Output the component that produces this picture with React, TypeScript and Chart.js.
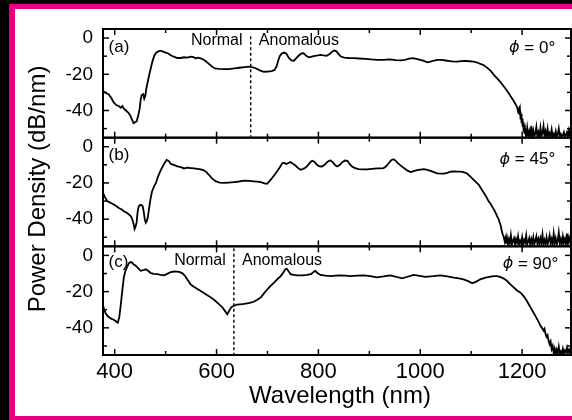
import React, { useEffect, useRef } from 'react';
import { Chart, registerables } from 'chart.js';

Chart.register(...registerables);

// ---------- data ----------
const panelTags = ['(a)', '(b)', '(c)'];
const phiValues = ['0°', '45°', '90°'];
const regimeLabels = ['Normal', 'Anomalous'];
const zeroDispersionA = 667; // nm, dashed marker in panel (a)
const zeroDispersionC = 634; // nm, dashed marker in panel (c)
const xTickValues = [400, 500, 600, 700, 800, 900, 1000, 1100, 1200];
const xTickLabels = [400, 600, 800, 1000, 1200];
const yTickValues = [-50, -40, -30, -20, -10, 0];
const yTickLabels = [0, -20, -40];
const xTitle = 'Wavelength (nm)';
const yTitle = 'Power Density (dB/nm)';

// panel (a) phi = 0°
const wlA = [378,383,388,393,398,403,408,412,415,418,422,426,430,434,437,440,443,446,449,451,453,456,458,460,462,465,468,471,474,478,482,486,490,495,500,505,510,516,523,530,536,543,549,555,559,563,569,575,582,590,597,605,615,625,635,645,655,663,670,678,686,693,700,708,714,718,721,724,728,733,737,742,747,752,757,762,767,771,776,781,787,793,799,804,810,816,822,827,831,835,839,844,851,860,870,880,892,904,916,928,940,952,962,970,978,986,994,1000,1007,1014,1020,1027,1034,1042,1050,1058,1066,1073,1080,1088,1096,1105,1112,1118,1125,1131,1138,1145,1150,1155,1160,1165,1170,1175,1180,1184,1188,1190,1192,1194,1195,1196,1197,1198,1199,1200,1201,1202,1203,1204,1205,1206,1208,1210,1212,1214,1216,1218,1220,1222,1224,1226,1228,1230,1232,1234,1236,1238,1240,1242,1244,1246,1248,1250,1252,1254,1256,1258,1260,1262,1264,1266,1268,1270,1272,1274,1276,1278,1280,1282,1284,1286,1288,1290,1292,1294,1296];
const dbA = [-29.5,-30.5,-31,-33,-35.5,-37,-37.5,-38.5,-37.5,-39,-40,-41,-42.5,-45,-47,-46.5,-46,-43,-39,-34,-31.5,-31,-33.5,-32,-28,-24,-20,-16.5,-13,-9.5,-8,-7.3,-7,-7.5,-8,-8.5,-9.5,-10.3,-11,-11,-10.6,-10.8,-10.3,-10.5,-11.3,-10.8,-11.2,-12,-13.5,-15.5,-16.8,-17,-17.1,-17.2,-16.8,-16.4,-16,-15.8,-16,-16.8,-18,-18.6,-18.5,-18.2,-17.6,-15.5,-12.5,-10,-8.5,-8,-8.6,-11,-12.3,-12.5,-11,-9.5,-8.5,-8.4,-9.8,-10.6,-10.2,-9.8,-9.6,-9.3,-9.6,-9.8,-8.8,-7.6,-6.9,-7.2,-8.6,-10.2,-10.8,-11,-11.1,-11.3,-11.5,-11.8,-12,-12,-11.8,-12.2,-12.3,-12,-11.4,-11.1,-11.6,-12,-12.6,-13.4,-13,-12.4,-12,-12.1,-12.4,-12.7,-13,-13,-12.7,-12.6,-12.8,-13,-13.5,-14.3,-15,-16.3,-18,-20.5,-22,-23.5,-25.2,-27,-29,-31,-33.2,-35,-37,-38,-40.5,-39,-42.5,-40.5,-45,-42,-47,-44.5,-49,-46.5,-52,-48,-53,-50.5,-54.5,-49.5,-54,-51.5,-54.5,-48.5,-54,-51,-54.5,-52.5,-49,-54.5,-52,-54.5,-49.5,-54,-52.5,-48.5,-54.5,-51.5,-54,-50,-54.5,-52.5,-54,-50.5,-54.5,-53,-54.5,-51.5,-54.5,-53,-50,-54.5,-53,-54.5,-53.5,-52,-54.5,-53.5,-52,-54.5,-51,-54,-52.5];

// panel (b) phi = 45°
const wlB = [377,381,386,392,399,404,408,413,418,423,428,432,435,437,439,441,443,445,447,450,453,455,457,459,461,463,465,467,470,473,477,481,485,490,495,499,502,506,510,516,523,530,536,543,549,556,562,569,575,580,585,591,598,606,614,624,634,644,654,664,673,680,687,694,699,704,709,714,719,724,729,733,737,741,745,749,755,760,765,770,775,780,785,788,792,797,802,807,812,817,821,824,828,833,837,842,847,852,857,861,866,872,879,888,896,905,915,922,928,933,938,943,947,951,955,960,968,975,981,987,994,1000,1007,1014,1020,1027,1033,1040,1046,1053,1060,1066,1072,1079,1085,1092,1098,1104,1110,1115,1120,1125,1130,1134,1138,1142,1145,1148,1151,1154,1156,1158,1160,1162,1164,1166,1167,1168,1170,1172,1174,1176,1178,1180,1182,1184,1186,1188,1190,1192,1194,1196,1198,1200,1202,1204,1206,1208,1210,1212,1214,1216,1218,1220,1222,1224,1226,1228,1230,1232,1234,1236,1238,1240,1242,1244,1246,1248,1250,1252,1254,1256,1258,1260,1262,1264,1266,1268,1270,1272,1274,1276,1278,1280,1282,1284,1286,1288,1290,1292,1294,1296];
const dbB = [-25.5,-28,-30.2,-31,-32,-33,-33.8,-34.5,-35.6,-36.3,-37.4,-38.5,-40.5,-42.5,-45.4,-44,-41.8,-36,-33,-32.2,-32.3,-33,-36,-40,-42,-41,-39,-35,-29.3,-25,-22,-20,-16.5,-13.2,-10.5,-8.5,-7.3,-7.8,-9.5,-10,-10.8,-11.3,-12,-11.6,-11.8,-12,-12.2,-12.5,-13,-14,-15.5,-17.5,-19,-19.8,-20,-19.8,-19.6,-19.2,-18.7,-18.9,-19.1,-19.3,-19.6,-20.2,-20.5,-19,-17.3,-15.5,-13.6,-11.5,-9.1,-8.9,-9.5,-9,-8.5,-9.2,-10.4,-11.8,-12.7,-12.2,-11.5,-10,-8.3,-7.8,-8.3,-10,-10.8,-10.9,-10,-8.5,-7.8,-7.6,-8.5,-10.2,-10.9,-10,-8.5,-7.6,-7.8,-9.5,-10.9,-11.8,-12.4,-12.5,-12.5,-12.2,-12,-12,-11.8,-10.8,-9.1,-7.4,-6.9,-7.6,-8.8,-10,-11.8,-13.2,-14,-13.5,-12.9,-12.6,-12.4,-12.8,-13.3,-14,-14.7,-14.9,-14.9,-14.4,-13.8,-13.6,-13.7,-13.8,-14,-14.8,-16.4,-18,-19.7,-21,-23.3,-25.5,-27.8,-30,-31.5,-33.5,-34.8,-36.5,-38.5,-40,-42,-43.5,-46.4,-48.5,-50,-52.5,-51,-53.5,-50,-54,-51,-53.5,-49,-54,-52,-50.5,-54,-51,-53,-49.5,-54,-52,-53.5,-50,-54,-51.5,-53,-49,-54,-52.5,-50.5,-54,-51,-53.5,-50,-54,-52,-49.5,-53.5,-51,-54,-50.5,-53,-48.5,-54,-51.5,-53.5,-50,-54,-52,-49,-53.5,-51,-54,-48,-53,-50.5,-54,-52,-47.5,-53.5,-51,-54,-49.5,-53,-51,-54,-48,-53.5,-50,-52.5,-49];

// panel (c) phi = 90°
const wlC = [376,379,382,386,392,398,403,406,409,412,415,418,421,425,428,431,434,437,441,445,451,456,461,466,471,477,484,490,497,503,510,517,523,528,533,538,543,549,556,565,575,585,595,603,611,616,621,625,629,634,640,646,654,663,673,680,687,693,700,706,713,719,726,731,735,738,742,746,752,758,768,778,786,791,794,798,804,814,824,834,843,853,863,876,889,902,915,928,941,953,964,975,987,999,1010,1025,1040,1053,1066,1076,1085,1094,1102,1110,1118,1128,1138,1145,1151,1158,1164,1170,1177,1184,1190,1197,1203,1208,1213,1217,1221,1226,1230,1233,1236,1239,1242,1244,1246,1248,1250,1252,1254,1256,1258,1260,1262,1264,1266,1268,1270,1272,1274,1276,1278,1280,1282,1284,1286,1288,1290,1292,1294,1296];
const dbC = [-27,-29.5,-32,-33.5,-34.8,-35.5,-36.5,-37.2,-34,-27,-19,-12,-8.5,-5.9,-4.3,-3.7,-4,-5,-5.6,-6.8,-8.5,-8.2,-7.7,-8.6,-9.8,-10.2,-10.4,-10.7,-11,-10.2,-9.2,-8.9,-9,-9.3,-9.9,-11.3,-13.5,-16,-17.5,-19,-20.8,-22.5,-24.5,-26.5,-28.5,-30.5,-32.5,-30.5,-28.6,-27.8,-27.2,-27,-26.8,-26.4,-25.6,-24.5,-23.2,-21,-18.7,-16.8,-15,-13.3,-11.4,-9.5,-7.7,-7.4,-9,-10.5,-10.8,-11,-11,-10.8,-10.2,-9,-8.6,-9.8,-10.8,-11.2,-11.4,-11.2,-11,-11.2,-11.4,-11.2,-11,-11.5,-12.1,-11.6,-11,-11.8,-12.7,-11.8,-10.8,-11.3,-11.9,-11.5,-11,-11.6,-12.3,-12.7,-13.2,-14.2,-15.4,-14.5,-13.2,-12.3,-11.7,-11.4,-11.4,-12,-12.8,-14,-16,-17.8,-19.4,-20.6,-22.5,-24.5,-27,-29,-31,-33.4,-35.5,-37,-38.9,-40,-41.5,-40.5,-43.5,-45,-44,-47.2,-49,-47.5,-51.7,-50,-54,-51.5,-54.5,-52,-54,-50.5,-54.5,-53,-54,-51.5,-54.5,-52.5,-53.5,-51,-54,-52,-53.5,-51.5];

// ---------- drawing ----------
const FONT = "'Liberation Sans', Arial, Helvetica, sans-serif";
const PANELS = ['ya', 'yb', 'yc'];

const pts = (xs: number[], ys: number[]) => xs.map((x, i) => ({ x, y: ys[i] }));

const framePlugin = {
  id: 'panelFrames',
  afterDatasetsDraw(chart: any) {
    const { ctx, chartArea, scales } = chart;
    const xs = scales.x;
    const L = chartArea.left;
    const R = chartArea.right;
    ctx.save();
    ctx.strokeStyle = '#000';
    ctx.fillStyle = '#000';

    const seg = (x1: number, y1: number, x2: number, y2: number) => {
      ctx.beginPath();
      ctx.moveTo(x1, y1);
      ctx.lineTo(x2, y2);
      ctx.stroke();
    };

    PANELS.forEach((id) => {
      const s = scales[id];
      ctx.setLineDash([]);
      ctx.lineWidth = 2;
      ctx.strokeRect(L, s.top, R - L, s.bottom - s.top);
      ctx.lineWidth = 1.5;
      s.ticks.forEach((t: any) => {
        const py = s.getPixelForValue(t.value);
        const len = yTickLabels.includes(t.value) ? 6 : 4;
        seg(L, py, L + len, py);
        seg(R, py, R - len, py);
      });
      xs.ticks.forEach((t: any) => {
        const px = xs.getPixelForValue(t.value);
        const len = xTickLabels.includes(t.value) ? 6 : 4;
        seg(px, s.top, px, s.top + len);
        seg(px, s.bottom, px, s.bottom - len);
      });
    });

    // dashed zero-dispersion markers
    ctx.lineWidth = 1.4;
    ctx.setLineDash([3, 2.5]);
    const ya = scales.ya;
    const yc = scales.yc;
    let px = xs.getPixelForValue(zeroDispersionA);
    seg(px, ya.getPixelForValue(1), px, ya.bottom);
    px = xs.getPixelForValue(zeroDispersionC);
    seg(px, yc.getPixelForValue(4), px, yc.bottom);
    ctx.setLineDash([]);

    // panel tags and phi labels
    const tagY = [-5.1, -5, -4];
    const phiY = [-5.4, -7, -4.9];
    const phiRight = [1265, 1265, 1271];
    ctx.textBaseline = 'middle';
    PANELS.forEach((id, i) => {
      const s = scales[id];
      ctx.font = `17px ${FONT}`;
      ctx.textAlign = 'left';
      ctx.fillText(panelTags[i], xs.getPixelForValue(388), s.getPixelForValue(tagY[i]));
      const rest = ` = ${phiValues[i]}`;
      const restW = ctx.measureText(rest).width;
      const rx = xs.getPixelForValue(phiRight[i]);
      const ry = s.getPixelForValue(phiY[i]);
      ctx.textAlign = 'right';
      ctx.fillText(rest, rx, ry);
      ctx.font = `italic 16px 'DejaVu Sans', ${FONT}`;
      ctx.fillText('\u03D5', rx - restW, ry);
    });

    // regime labels
    ctx.font = `16px ${FONT}`;
    const regime = (zd: number, s: any, dy: number) => {
      ctx.textAlign = 'right';
      ctx.fillText(regimeLabels[0], xs.getPixelForValue(zd - 16), s.getPixelForValue(dy));
      ctx.textAlign = 'left';
      ctx.fillText(regimeLabels[1], xs.getPixelForValue(zd + 16), s.getPixelForValue(dy));
    };
    regime(zeroDispersionA, ya, -1.5);
    regime(zeroDispersionC, yc, -2.6);

    // axis titles
    ctx.font = `24px ${FONT}`;
    ctx.textAlign = 'center';
    ctx.textBaseline = 'alphabetic';
    ctx.fillText(xTitle, (L + R) / 2 + 3, 403);
    ctx.save();
    ctx.translate(45, (chartArea.top + chartArea.bottom) / 2 - 3);
    ctx.rotate(-Math.PI / 2);
    ctx.fillText(yTitle, 0, 0);
    ctx.restore();

    ctx.restore();
  },
};

const yScale = (w: number) => ({
  type: 'linear',
  position: 'left',
  stack: 'panels',
  stackWeight: 1,
  weight: w,
  min: -55,
  max: 5,
  grid: { display: false, drawTicks: false },
  border: { display: false },
  afterBuildTicks: (s: any) => {
    s.ticks = yTickValues.map((value) => ({ value }));
  },
  ticks: {
    autoSkip: false,
    padding: 10,
    color: '#000',
    font: { family: FONT, size: 19 },
    callback: (v: any) => (yTickLabels.includes(Number(v)) ? String(v) : ''),
  },
  afterFit: (s: any) => {
    s.width = 103;
  },
});

export default function App() {
  const ref = useRef<HTMLCanvasElement | null>(null);

  useEffect(() => {
    if (!ref.current) return;
    const line = (data: any, axis: string) => ({
      data,
      yAxisID: axis,
      xAxisID: 'x',
      borderColor: '#000',
      borderWidth: 1.8,
      pointRadius: 0,
      tension: 0,
      fill: false,
    });
    const chart = new Chart(ref.current, {
      type: 'line',
      data: {
        datasets: [
          line(pts(wlA, dbA), 'ya'),
          line(pts(wlB, dbB), 'yb'),
          line(pts(wlC, dbC), 'yc'),
        ],
      },
      options: {
        responsive: false,
        animation: false,
        events: [],
        layout: { padding: { left: 0, right: 1, top: 29, bottom: 0 } },
        plugins: {
          legend: { display: false },
          tooltip: { enabled: false },
          title: { display: false },
        },
        scales: {
          x: {
            type: 'linear',
            position: 'bottom',
            min: 377,
            max: 1296,
            grid: { display: false, drawTicks: false },
            border: { display: false },
            afterBuildTicks: (s: any) => {
              s.ticks = xTickValues.map((value) => ({ value }));
            },
            ticks: {
              autoSkip: false,
              maxRotation: 0,
              padding: 4,
              color: '#000',
              font: { family: FONT, size: 22 },
              callback: (v: any) => (xTickLabels.includes(Number(v)) ? String(v) : ''),
            },
            afterFit: (s: any) => {
              s.height = 65;
            },
          },
          ya: yScale(3),
          yb: yScale(2),
          yc: yScale(1),
        },
      } as any,
      plugins: [framePlugin],
    });
    return () => chart.destroy();
  }, []);

  return (
    <div
      style={{
        position: 'fixed',
        left: 0,
        top: 0,
        width: 572,
        height: 420,
        background: '#000',
        overflow: 'hidden',
      }}
    >
      <div style={{ position: 'absolute', left: 9, top: 4, width: 600, height: 430, background: '#e6007e' }} />
      <div style={{ position: 'absolute', left: 15, top: 9, width: 600, height: 407, background: '#fff' }} />
      <canvas ref={ref} width={572} height={420} style={{ position: 'absolute', left: 0, top: 0 }} />
    </div>
  );
}
